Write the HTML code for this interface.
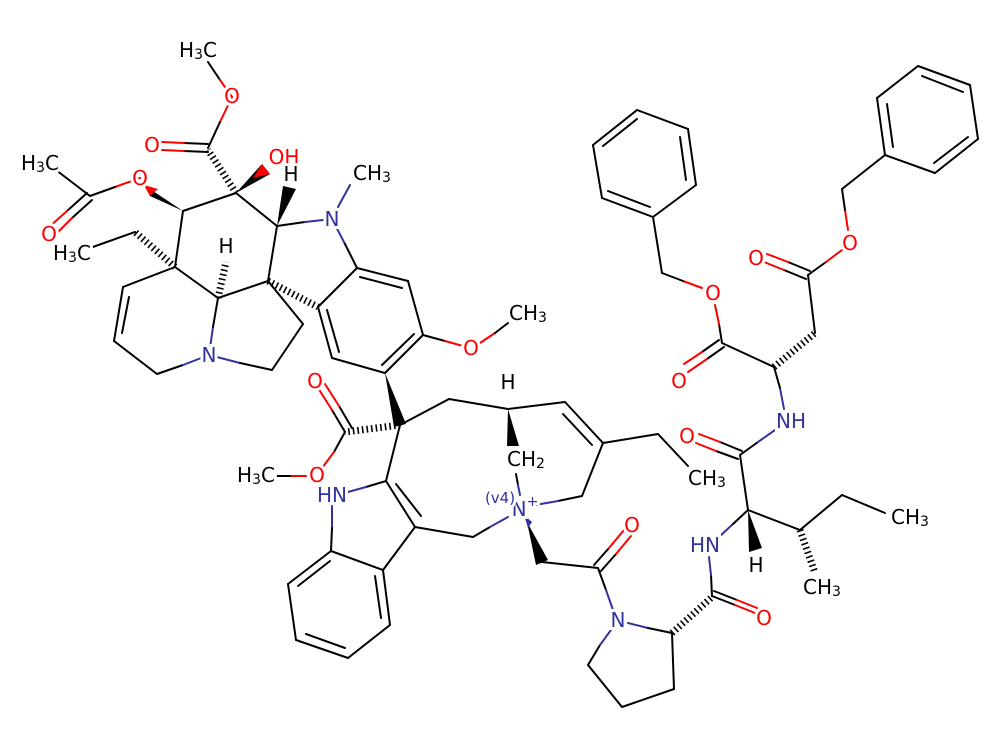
<!DOCTYPE html>
<html><head><meta charset="utf-8"><style>
html,body{margin:0;padding:0;background:#fff}
svg{display:block}
line{stroke:#000;stroke-width:2;stroke-linecap:round}
.r{stroke:#f00}.b{stroke:#33339f}
.h{stroke-width:7;stroke-dasharray:1.6,3;stroke-linecap:butt}
text{font-family:"DejaVu Sans","Liberation Sans",sans-serif;font-size:20px;text-anchor:middle;dominant-baseline:central;paint-order:stroke;stroke:#fff;stroke-width:6px}
.tO{fill:#f00}.tN{fill:#33339f}.tC{fill:#000}
tspan.s{font-size:14px}
</style></head><body>
<svg width="1000" height="750" viewBox="0 0 1000 750" xmlns="http://www.w3.org/2000/svg">
<line x1="208" y1="62" x2="220" y2="80"/><line class="r" x1="220" y1="80" x2="232" y2="97"/>
<line class="r" x1="232" y1="97" x2="220" y2="122"/><line x1="220" y1="122" x2="208" y2="148"/>
<line x1="208" y1="144" x2="184" y2="143"/><line class="r" x1="184" y1="143" x2="162" y2="142"/>
<line x1="208" y1="152" x2="184" y2="151"/><line class="r" x1="184" y1="151" x2="162" y2="150"/>
<line class="h" x1="236" y1="193" x2="208" y2="150"/>
<polygon points="236,193 262,164 270,174" fill="#000"/><polygon points="253,178 262,164 270,174" fill="#f00"/>
<line x1="236" y1="193" x2="183" y2="211"/><line x1="236" y1="193" x2="277" y2="226"/>
<polygon points="183,211 144,185 150,196" fill="#000"/><polygon points="158,189 144,185 150,196" fill="#f00"/>
<line class="r" x1="140" y1="178" x2="115" y2="187"/><line x1="115" y1="187" x2="90" y2="196"/>
<line x1="90" y1="196" x2="56" y2="170"/>
<line x1="92" y1="200" x2="72" y2="218"/><line class="r" x1="72" y1="218" x2="54" y2="236"/>
<line x1="87" y1="193" x2="67" y2="211"/><line class="r" x1="67" y1="211" x2="48" y2="228"/>
<line x1="183" y1="211" x2="175" y2="267"/>
<line class="h" x1="175" y1="267" x2="135" y2="232"/>
<line x1="135" y1="232" x2="90" y2="248"/>
<line x1="175" y1="267" x2="123" y2="287"/>
<line x1="123" y1="287" x2="114" y2="341"/><line x1="129" y1="297" x2="122" y2="333"/>
<line x1="114" y1="341" x2="157" y2="374"/>
<line x1="157" y1="374" x2="183" y2="365"/><line class="b" x1="183" y1="365" x2="209" y2="355"/>
<line class="b" x1="209" y1="355" x2="213" y2="327"/><line x1="213" y1="327" x2="218" y2="298"/>
<line class="b" x1="209" y1="355" x2="240" y2="363"/><line x1="240" y1="363" x2="272" y2="370"/>
<line x1="272" y1="370" x2="303" y2="324"/><line x1="303" y1="324" x2="268" y2="281"/>
<line x1="268" y1="281" x2="218" y2="298"/><line x1="218" y1="298" x2="175" y2="267"/>
<line x1="268" y1="281" x2="277" y2="226"/>
<line x1="277" y1="226" x2="305" y2="222"/><line class="b" x1="305" y1="222" x2="332" y2="219"/>
<line class="b" x1="338" y1="207" x2="350" y2="185"/>
<line class="b" x1="332" y1="219" x2="345" y2="244"/><line x1="345" y1="244" x2="357" y2="268"/>
<line class="h" x1="218" y1="298" x2="226" y2="262"/>
<polygon points="277,226 283,186 296,189" fill="#000"/>
<line class="h" x1="268" y1="281" x2="318" y2="307"/>
<line x1="357" y1="268" x2="408" y2="281"/><line x1="360" y1="277" x2="402" y2="288"/>
<line x1="408" y1="281" x2="423" y2="335"/>
<line x1="423" y1="335" x2="385" y2="373"/><line x1="414" y1="334" x2="382" y2="365"/>
<line x1="385" y1="373" x2="332" y2="358"/>
<line x1="332" y1="358" x2="318" y2="307"/><line x1="339" y1="352" x2="327" y2="310"/>
<line x1="318" y1="307" x2="357" y2="268"/>
<line x1="423" y1="335" x2="445" y2="341"/><line class="r" x1="445" y1="341" x2="463" y2="346"/>
<line class="r" x1="480" y1="343" x2="495" y2="333"/><line x1="495" y1="333" x2="508" y2="323"/>
<polygon points="385,373 394,427 406,424" fill="#000"/>
<line class="h" x1="400" y1="425" x2="345" y2="432"/>
<line x1="345" y1="432" x2="332" y2="410"/><line class="r" x1="332" y1="410" x2="318" y2="388"/>
<line x1="352" y1="428" x2="339" y2="406"/><line class="r" x1="339" y1="406" x2="325" y2="384"/>
<line x1="345" y1="432" x2="334" y2="452"/><line class="r" x1="334" y1="452" x2="322" y2="468"/>
<line class="r" x1="306" y1="476" x2="290" y2="476"/><line x1="290" y1="476" x2="275" y2="476"/>
<line x1="400" y1="425" x2="449" y2="399"/><line x1="449" y1="399" x2="508" y2="409"/>
<line x1="508" y1="409" x2="565" y2="402"/>
<line x1="565" y1="402" x2="603" y2="443"/><line x1="563" y1="414" x2="592" y2="445"/>
<line x1="603" y1="443" x2="658" y2="434"/><line x1="658" y1="434" x2="688" y2="466"/>
<line x1="603" y1="443" x2="582" y2="496"/>
<line x1="582" y1="496" x2="558" y2="501"/><line class="b" x1="558" y1="501" x2="535" y2="505"/>
<polygon points="508,409 507,446 519,446" fill="#000"/>
<line x1="516" y1="474" x2="518" y2="485"/><line class="b" x1="518" y1="485" x2="520" y2="495"/>
<line x1="400" y1="425" x2="386" y2="481"/>
<line x1="386" y1="481" x2="366" y2="487"/><line class="b" x1="366" y1="487" x2="348" y2="492"/>
<line class="b" x1="332" y1="506" x2="332" y2="528"/><line x1="332" y1="528" x2="331" y2="551"/>
<line x1="386" y1="481" x2="415" y2="527"/><line x1="396" y1="484" x2="421" y2="516"/>
<line x1="415" y1="527" x2="473" y2="537"/>
<line x1="473" y1="537" x2="490" y2="527"/><line class="b" x1="490" y1="527" x2="508" y2="517"/>
<line x1="415" y1="527" x2="383" y2="570"/>
<line x1="331" y1="551" x2="288" y2="584"/><line x1="330" y1="561" x2="298" y2="586"/>
<line x1="288" y1="584" x2="296" y2="640"/>
<line x1="296" y1="640" x2="348" y2="658"/><line x1="306" y1="634" x2="345" y2="648"/>
<line x1="348" y1="658" x2="390" y2="625"/>
<line x1="390" y1="625" x2="383" y2="570"/><line x1="381" y1="618" x2="375" y2="576"/>
<line x1="383" y1="570" x2="331" y2="551"/>
<polygon points="527,522 536,565 548,560" fill="#000"/><polygon points="524,515 528,528 532,522" fill="#33339f"/>
<line x1="542" y1="562" x2="598" y2="568"/>
<line x1="594" y1="565" x2="609" y2="548"/><line class="r" x1="609" y1="548" x2="624" y2="530"/>
<line x1="601" y1="571" x2="616" y2="554"/><line class="r" x1="616" y1="554" x2="631" y2="536"/>
<line x1="598" y1="568" x2="606" y2="590"/><line class="b" x1="606" y1="590" x2="613" y2="610"/>
<line class="b" x1="628" y1="623" x2="648" y2="628"/><line x1="648" y1="628" x2="672" y2="633"/>
<line x1="672" y1="633" x2="674" y2="689"/><line x1="674" y1="689" x2="622" y2="707"/>
<line x1="622" y1="707" x2="588" y2="665"/>
<line x1="588" y1="665" x2="600" y2="645"/><line class="b" x1="600" y1="645" x2="611" y2="630"/>
<line class="h" x1="672" y1="633" x2="712" y2="597"/>
<line x1="712" y1="596" x2="735" y2="605"/><line class="r" x1="735" y1="605" x2="755" y2="613"/>
<line x1="714" y1="591" x2="737" y2="600"/><line class="r" x1="737" y1="600" x2="757" y2="608"/>
<line x1="712" y1="596" x2="711" y2="575"/><line class="b" x1="711" y1="575" x2="709" y2="557"/>
<line class="b" x1="720" y1="536" x2="733" y2="524"/><line x1="733" y1="524" x2="748" y2="510"/>
<polygon points="748,510 749,552 762,548" fill="#000"/>
<line x1="748" y1="510" x2="800" y2="530"/>
<line x1="800" y1="530" x2="842" y2="495"/><line x1="842" y1="495" x2="885" y2="513"/>
<line class="h" x1="800" y1="530" x2="815" y2="573"/>
<line x1="748" y1="510" x2="740" y2="455"/>
<line x1="742" y1="451" x2="720" y2="442"/><line class="r" x1="720" y1="442" x2="699" y2="434"/>
<line x1="738" y1="459" x2="716" y2="451"/><line class="r" x1="716" y1="451" x2="696" y2="443"/>
<line x1="740" y1="455" x2="758" y2="442"/><line class="b" x1="758" y1="442" x2="775" y2="430"/>
<line class="b" x1="784" y1="409" x2="780" y2="388"/><line x1="780" y1="388" x2="774" y2="367"/>
<line x1="774" y1="367" x2="722" y2="343"/>
<line x1="724" y1="347" x2="707" y2="359"/><line class="r" x1="707" y1="359" x2="688" y2="372"/>
<line x1="719" y1="340" x2="702" y2="352"/><line class="r" x1="702" y1="352" x2="684" y2="364"/>
<line x1="722" y1="343" x2="719" y2="324"/><line class="r" x1="719" y1="324" x2="715" y2="305"/>
<line class="r" x1="702" y1="288" x2="683" y2="281"/><line x1="683" y1="281" x2="662" y2="273"/>
<line x1="662" y1="273" x2="653" y2="217"/>
<line x1="637" y1="110" x2="688" y2="129"/>
<line x1="688" y1="129" x2="696" y2="185"/><line x1="680" y1="137" x2="686" y2="180"/>
<line x1="696" y1="185" x2="653" y2="217"/>
<line x1="653" y1="217" x2="602" y2="198"/><line x1="650" y1="207" x2="608" y2="191"/>
<line x1="602" y1="198" x2="593" y2="145"/>
<line x1="593" y1="145" x2="637" y2="110"/><line x1="603" y1="146" x2="637" y2="119"/>
<line class="h" x1="774" y1="367" x2="815" y2="333"/>
<line x1="815" y1="333" x2="808" y2="275"/>
<line x1="810" y1="271" x2="788" y2="262"/><line class="r" x1="788" y1="262" x2="767" y2="254"/>
<line x1="806" y1="279" x2="784" y2="270"/><line class="r" x1="784" y1="270" x2="764" y2="262"/>
<line x1="808" y1="275" x2="826" y2="262"/><line class="r" x1="826" y1="262" x2="842" y2="250"/>
<line class="r" x1="848" y1="230" x2="845" y2="210"/><line x1="845" y1="210" x2="842" y2="189"/>
<line x1="842" y1="189" x2="885" y2="155"/>
<line x1="885" y1="155" x2="877" y2="98"/><line x1="893" y1="147" x2="887" y2="104"/>
<line x1="877" y1="98" x2="918" y2="66"/>
<line x1="918" y1="66" x2="970" y2="85"/><line x1="922" y1="76" x2="963" y2="92"/>
<line x1="970" y1="85" x2="978" y2="139"/>
<line x1="978" y1="139" x2="935" y2="173"/><line x1="968" y1="137" x2="934" y2="163"/>
<line x1="935" y1="173" x2="885" y2="155"/>
<text class="tC" x="198" y="50">H<tspan class="s" dy="5">3</tspan><tspan dy="-5">C</tspan></text>
<text class="tO" x="232" y="96">O</text>
<text class="tO" x="152" y="145">O</text>
<text class="tO" x="284" y="157">OH</text>
<text class="tO" x="140" y="178">O</text>
<text class="tC" x="40" y="163">H<tspan class="s" dy="5">3</tspan><tspan dy="-5">C</tspan></text>
<text class="tO" x="49" y="234">O</text>
<text class="tC" x="72" y="253">H<tspan class="s" dy="5">3</tspan><tspan dy="-5">C</tspan></text>
<text class="tC" x="291" y="174">H</text>
<text class="tC" x="226" y="246">H</text>
<text class="tN" x="332" y="219">N</text>
<text class="tC" x="372" y="173">CH<tspan class="s" dy="5">3</tspan></text>
<text class="tN" x="209" y="355">N</text>
<text class="tO" x="471" y="348">O</text>
<text class="tC" x="528" y="313">CH<tspan class="s" dy="5">3</tspan></text>
<text class="tO" x="315" y="381">O</text>
<text class="tO" x="317" y="475">O</text>
<text class="tC" x="256" y="475">H<tspan class="s" dy="5">3</tspan><tspan dy="-5">C</tspan></text>
<text class="tC" x="508" y="382">H</text>
<text class="tC" x="526" y="459">CH<tspan class="s" dy="5">2</tspan></text>
<text class="tC" x="707" y="478">CH<tspan class="s" dy="5">3</tspan></text>
<text class="tN" x="332" y="495">HN</text>
<text class="tN" x="525" y="509">N<tspan dy="-7" font-size="14">+</tspan></text>
<text class="tN" x="500" y="498" style="font-size:15px">(v4)</text>
<text class="tO" x="632" y="525">O</text>
<text class="tN" x="618" y="620">N</text>
<text class="tO" x="764" y="618">O</text>
<text class="tN" x="705" y="545">HN</text>
<text class="tC" x="756" y="565">H</text>
<text class="tC" x="822" y="587">CH<tspan class="s" dy="5">3</tspan></text>
<text class="tC" x="910" y="517">CH<tspan class="s" dy="5">3</tspan></text>
<text class="tO" x="687" y="436">O</text>
<text class="tN" x="791" y="421">NH</text>
<text class="tO" x="679" y="381">O</text>
<text class="tO" x="713" y="293">O</text>
<text class="tO" x="756" y="258">O</text>
<text class="tO" x="850" y="243">O</text>
</svg>
</body></html>
